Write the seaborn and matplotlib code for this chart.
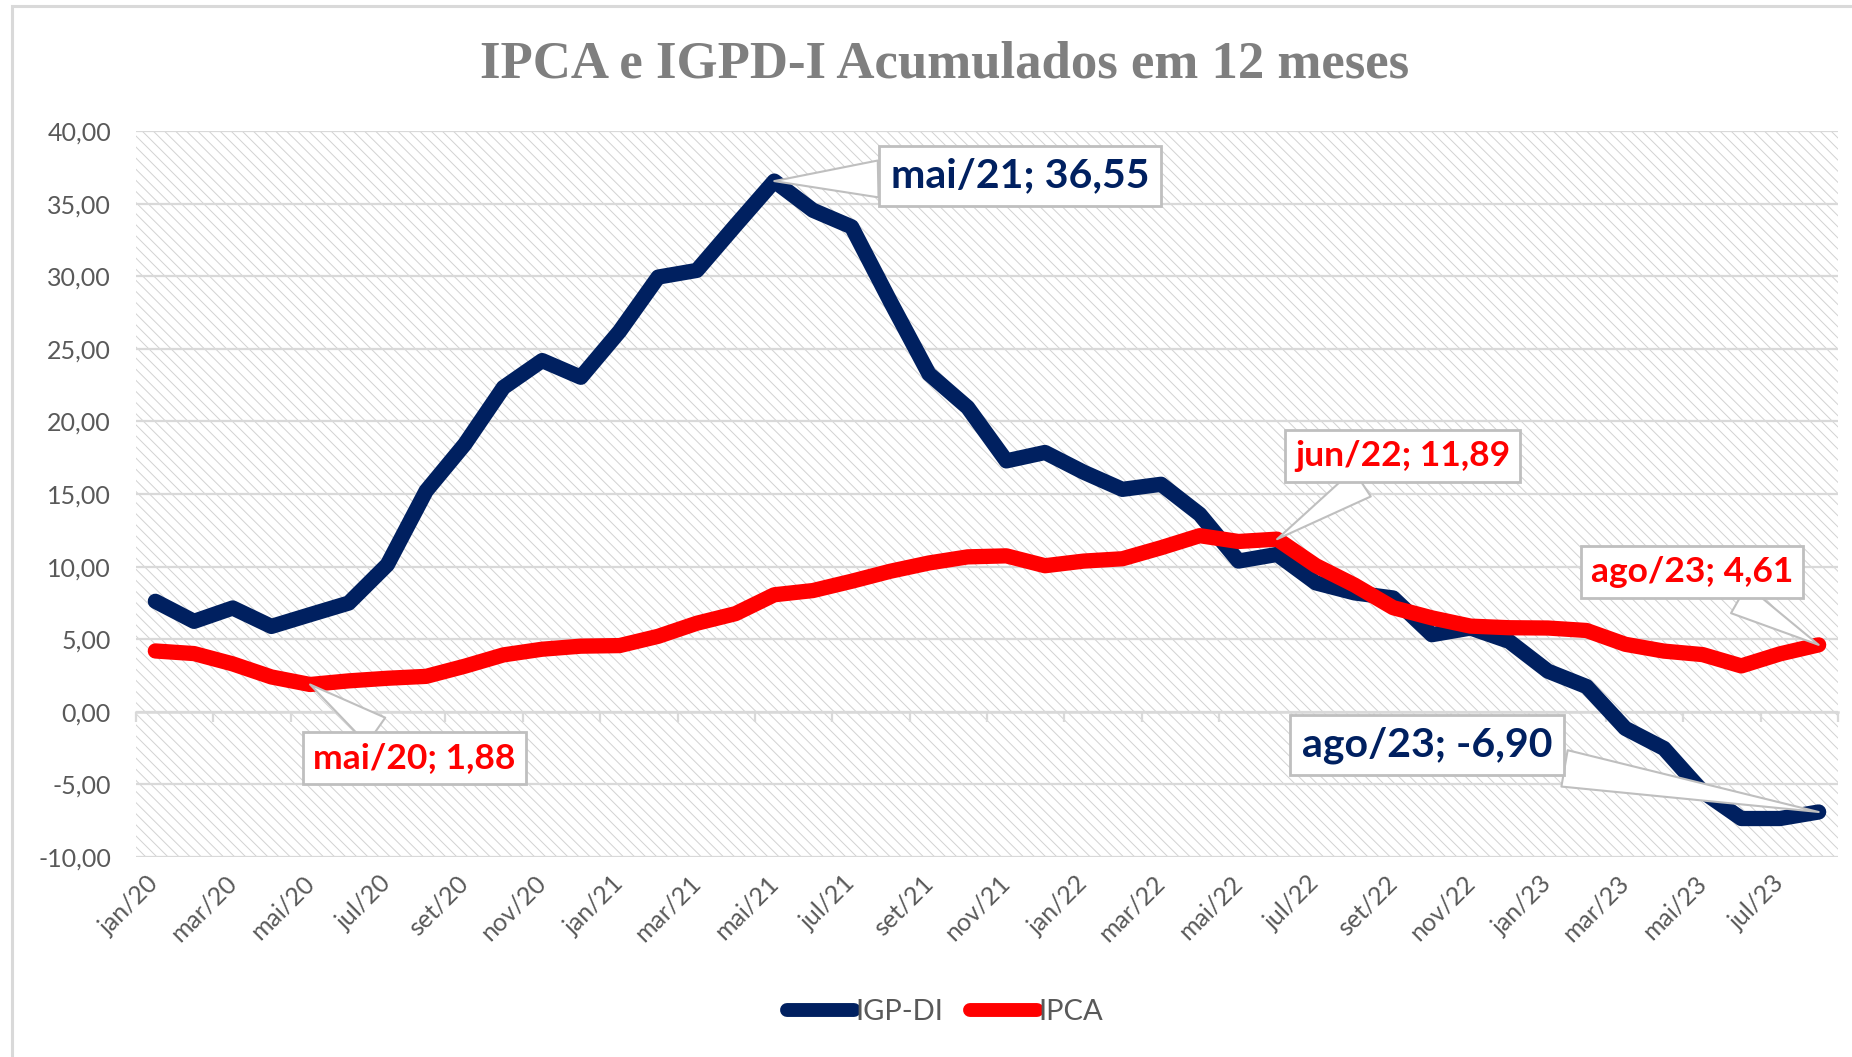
import matplotlib
matplotlib.use("Agg")
import matplotlib.pyplot as plt
import numpy as np
import pandas as pd
import seaborn as sns
from matplotlib.patches import Rectangle
from matplotlib.lines import Line2D

# ---------------- data ----------------
categories = [
    "jan/20", "fev/20", "mar/20", "abr/20", "mai/20", "jun/20", "jul/20", "ago/20",
    "set/20", "out/20", "nov/20", "dez/20",
    "jan/21", "fev/21", "mar/21", "abr/21", "mai/21", "jun/21", "jul/21", "ago/21",
    "set/21", "out/21", "nov/21", "dez/21",
    "jan/22", "fev/22", "mar/22", "abr/22", "mai/22", "jun/22", "jul/22", "ago/22",
    "set/22", "out/22", "nov/22", "dez/22",
    "jan/23", "fev/23", "mar/23", "abr/23", "mai/23", "jun/23", "jul/23", "ago/23",
]

igp_di = [
    7.61, 6.23, 7.15, 5.88, 6.69, 7.49, 10.14, 15.21, 18.43, 22.34, 24.19, 23.04,
    26.20, 29.94, 30.40, 33.50, 36.55, 34.54, 33.40, 28.26, 23.27, 20.96, 17.28, 17.86,
    16.50, 15.32, 15.67, 13.60, 10.38, 10.84, 8.88, 8.19, 7.84, 5.31, 5.77, 4.85,
    2.80, 1.74, -1.14, -2.52, -5.50, -7.35, -7.35, -6.90,
]

ipca = [
    4.19, 4.01, 3.30, 2.40, 1.88, 2.13, 2.31, 2.44, 3.14, 3.92, 4.31, 4.52,
    4.56, 5.20, 6.10, 6.76, 8.06, 8.35, 8.99, 9.68, 10.25, 10.67, 10.74, 10.06,
    10.38, 10.54, 11.30, 12.13, 11.73, 11.89, 10.07, 8.73, 7.17, 6.47, 5.90, 5.79,
    5.77, 5.60, 4.65, 4.18, 3.94, 3.16, 3.99, 4.61,
]

series_names = ["IGP-DI", "IPCA"]
x_tick_labels = [
    "jan/20", "mar/20", "mai/20", "jul/20", "set/20", "nov/20",
    "jan/21", "mar/21", "mai/21", "jul/21", "set/21", "nov/21",
    "jan/22", "mar/22", "mai/22", "jul/22", "set/22", "nov/22",
    "jan/23", "mar/23", "mai/23", "jul/23",
]
y_ticks = [-10, -5, 0, 5, 10, 15, 20, 25, 30, 35, 40]
y_tick_labels = ["-10,00", "-5,00", "0,00", "5,00", "10,00", "15,00",
                 "20,00", "25,00", "30,00", "35,00", "40,00"]

title = "IPCA e IGPD-I Acumulados em 12 meses"

# highlighted points: (series, category, label)
callouts = [
    ("IGP-DI", "mai/21", "mai/21; 36,55"),
    ("IPCA", "jun/22", "jun/22; 11,89"),
    ("IPCA", "ago/23", "ago/23; 4,61"),
    ("IGP-DI", "ago/23", "ago/23; -6,90"),
    ("IPCA", "mai/20", "mai/20; 1,88"),
]

# ---------------- style ----------------
NAVY = "#002060"
RED = "#FF0000"
GRAY_TXT = "#595959"
GRID = "#d9d9d9"

sns.set_style("white")
plt.rcParams["font.family"] = ["Lato", "DejaVu Sans"]
plt.rcParams["hatch.linewidth"] = 0.7

W, H = 1852, 1057
fig = plt.figure(figsize=(W / 100, H / 100), dpi=100)
ax = fig.add_axes([136 / W, 1 - 857 / H, 1702 / W, 726 / H])

# outer frame
fig.patches.append(Rectangle((12 / W, -0.05), 1.2, 1 - 6 / H + 0.05,
                             transform=fig.transFigure, fill=False,
                             edgecolor=GRID, linewidth=2.2, zorder=0))

# hatched plot background
ax.patch.set_facecolor("white")
ax.add_patch(Rectangle((0, 0), 1, 1, transform=ax.transAxes, facecolor="white",
                       edgecolor="#d2d2d2", hatch="\\\\\\", linewidth=0, zorder=0))

idx = np.arange(len(categories))
df = pd.DataFrame({
    "idx": np.concatenate([idx, idx]),
    "mes": categories + categories,
    "valor": igp_di + ipca,
    "serie": [series_names[0]] * len(categories) + [series_names[1]] * len(categories),
})
palette = {"IGP-DI": NAVY, "IPCA": RED}
sns.lineplot(data=df, x="idx", y="valor", hue="serie", hue_order=series_names,
             palette=palette, linewidth=11, sort=False, legend=False, ax=ax, zorder=3)
for ln in ax.lines:
    ln.set_solid_joinstyle("round")
    ln.set_solid_capstyle("round")

ax.set_xlim(-0.5, len(categories) - 0.5)
ax.set_ylim(-10, 40)
ax.set_xlabel("")
ax.set_ylabel("")
for s in ax.spines.values():
    s.set_visible(False)

ax.set_yticks(y_ticks)
ax.set_yticklabels(y_tick_labels)
ax.yaxis.grid(True, color=GRID, linewidth=1.6)
ax.set_axisbelow(True)
ax.tick_params(axis="y", length=0, pad=18, labelsize=18, labelcolor=GRAY_TXT)

xt = [categories.index(c) for c in x_tick_labels]
ax.set_xticks(xt)
ax.set_xticklabels(x_tick_labels, rotation=45, ha="right", rotation_mode="anchor",
                   va="center")
ax.tick_params(axis="x", length=0, pad=16, labelsize=18, labelcolor=GRAY_TXT)

# horizontal axis crossing at zero, with tick marks between categories
sec = ax.secondary_xaxis(10 / 50)
sec.set_xticks(np.arange(-0.5, len(categories), 2))
sec.set_xticklabels([])
sec.tick_params(axis="x", length=7, width=1.6, color=GRID, direction="out")
sec.spines["bottom"].set_color(GRID)
sec.spines["bottom"].set_linewidth(1.8)
for k in ("top", "left", "right"):
    sec.spines[k].set_visible(False)

# callouts
text_pos = {
    "mai/21; 36,55": (22.35, 36.9, 29.5),
    "jun/22; 11,89": (32.25, 17.6, 25.5),
    "ago/23; 4,61": (39.72, 9.6, 25.5),
    "ago/23; -6,90": (32.87, -2.27, 29.5),
    "mai/20; 1,88": (6.7, -3.16, 25.5),
}
for serie, cat, label in callouts:
    vals = igp_di if serie == "IGP-DI" else ipca
    i = categories.index(cat)
    tx, ty, fs = text_pos[label]
    ax.annotate(label, xy=(i, vals[i]), xytext=(tx, ty), textcoords="data",
                ha="center", va="center", fontsize=fs, fontweight="bold",
                color=palette[serie], zorder=6,
                bbox=dict(boxstyle="square,pad=0.28", fc="white", ec="#bfbfbf", lw=2),
                arrowprops=dict(arrowstyle="wedge,tail_width=0.9,shrink_factor=0.5",
                                fc="white", ec="#bfbfbf", lw=1.5,
                                shrinkA=0, shrinkB=0))

# title
fig.text(945 / W, 1 - 65 / H, title, ha="center", va="center",
         fontsize=38, fontweight="bold", color="#7f7f7f",
         family=["Liberation Serif", "DejaVu Serif"])

# legend
handles = [Line2D([0], [0], color=palette[n], lw=10, solid_capstyle="round")
           for n in series_names]
leg = fig.legend(handles, series_names, loc="center", bbox_to_anchor=(945 / W, 1 - 1012 / H),
                 ncol=2, frameon=False, fontsize=21, handlelength=2.3,
                 handletextpad=0.05, columnspacing=0.9)
for t in leg.get_texts():
    t.set_color(GRAY_TXT)

fig.savefig("out.png", dpi=100)
